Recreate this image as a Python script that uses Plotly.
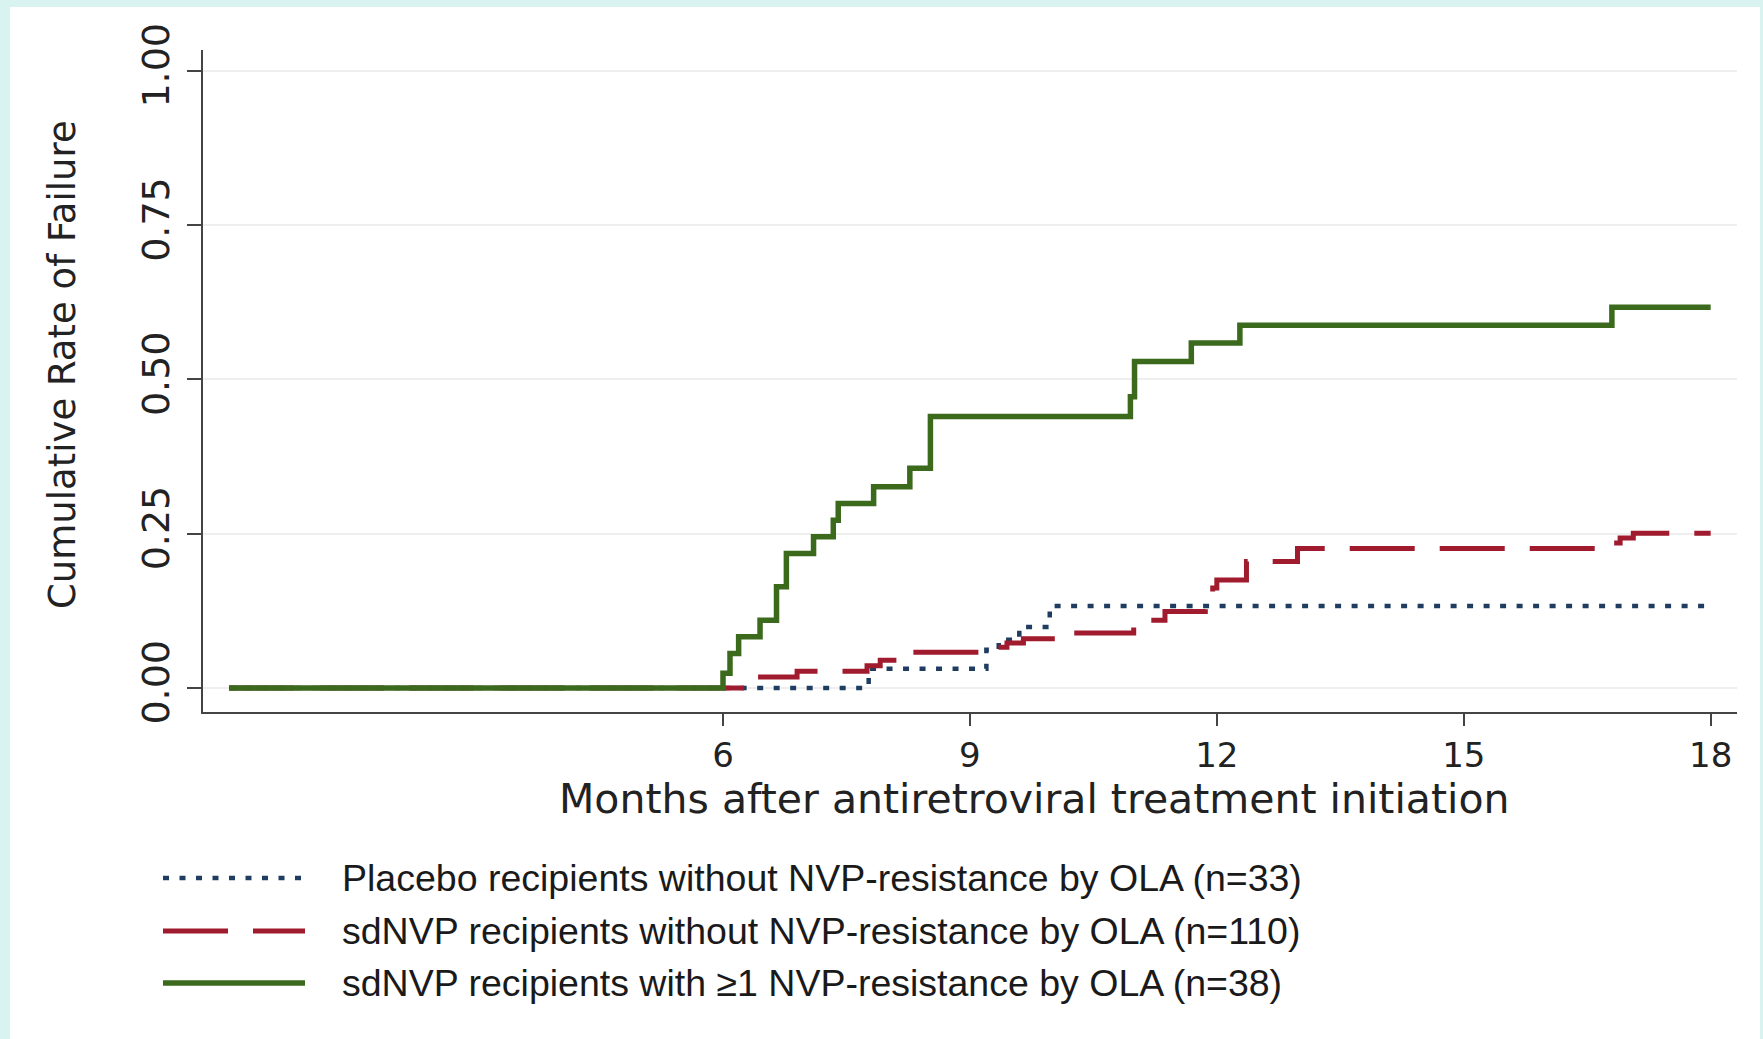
import plotly.graph_objects as go

# ---- data ----
months_placebo = [0, 7.77, 9.20, 9.35, 9.60, 9.97, 18.0]
rate_placebo = [0, 0.031, 0.062, 0.078, 0.099, 0.133, 0.133]

months_sdnvp_nores = [0, 6.39, 6.90, 7.75, 7.91, 8.25, 9.18, 9.45, 9.65, 10.20, 10.99,
                      11.37, 11.86, 11.90, 11.95, 12.00, 12.36, 12.98, 16.78, 16.90, 17.06, 18.0]
rate_sdnvp_nores = [0, 0.018, 0.027, 0.036, 0.045, 0.058, 0.066, 0.073, 0.080, 0.089, 0.110,
                    0.124, 0.135, 0.150, 0.162, 0.175, 0.205, 0.226, 0.235, 0.243, 0.251, 0.251]

months_sdnvp_res = [0, 6.00, 6.085, 6.19, 6.45, 6.65, 6.77, 7.10, 7.34, 7.40, 7.83, 8.27, 8.52,
                    10.95, 11.00, 11.69, 12.28, 16.80, 18.0]
rate_sdnvp_res = [0, 0.024, 0.056, 0.083, 0.110, 0.164, 0.218, 0.245, 0.272, 0.299, 0.326, 0.356,
                  0.440, 0.472, 0.529, 0.559, 0.588, 0.617, 0.617]

names = ["Placebo recipients without NVP-resistance by OLA (n=33)",
         "sdNVP recipients without NVP-resistance by OLA (n=110)",
         "sdNVP recipients with \u22651 NVP-resistance by OLA (n=38)"]

x_ticks = [6, 9, 12, 15, 18]
y_ticks = [0, 0.25, 0.5, 0.75, 1.0]

# ---- styling ----
W, H = 1763, 1039
L, R, T, B = 203, 26, 50, 327
BLUE, RED, GREEN = "#1f3d60", "#a01b2e", "#3b6a1c"
DOT = "6px,10.5px"
DASH = "65px,25px"

def px_to_paper(px, py):
    return (px - L) / (W - L - R), (H - B - py) / (H - T - B)

fig = go.Figure()
fig.add_trace(go.Scatter(x=months_placebo, y=rate_placebo, mode="lines", line_shape="hv",
                         line=dict(color=BLUE, width=4.5, dash=DOT), name=names[0]))
fig.add_trace(go.Scatter(x=months_sdnvp_nores, y=rate_sdnvp_nores, mode="lines", line_shape="hv",
                         line=dict(color=RED, width=5, dash=DASH), name=names[1]))
fig.add_trace(go.Scatter(x=months_sdnvp_res, y=rate_sdnvp_res, mode="lines", line_shape="hv",
                         line=dict(color=GREEN, width=5.5), name=names[2]))

shapes = []
# white panel over the light cyan page
x0, y0 = px_to_paper(10, 1039)
x1, y1 = px_to_paper(1760, 7)
shapes.append(dict(type="rect", xref="paper", yref="paper", x0=x0, y0=y0, x1=x1, y1=y1,
                   fillcolor="white", line=dict(width=0), layer="below"))

annotations = []
legend_y = [878, 931, 983]
legend_styles = [(BLUE, DOT, 4.5), (RED, DASH, 5), (GREEN, "solid", 5.5)]
for nm, ly, (col, dsh, wd) in zip(names, legend_y, legend_styles):
    ax0, ay = px_to_paper(163, ly)
    ax1, _ = px_to_paper(305, ly)
    shapes.append(dict(type="line", xref="paper", yref="paper", x0=ax0, x1=ax1, y0=ay, y1=ay,
                       line=dict(color=col, width=wd, dash=dsh)))
    tx, ty = px_to_paper(340, ly)
    annotations.append(dict(text=nm, xref="paper", yref="paper", x=tx, y=ty,
                            xanchor="left", yanchor="middle", showarrow=False,
                            font=dict(family="Liberation Sans, Arial", size=37.5, color="#1a1a1a")))

# axis titles
tx, ty = px_to_paper(1034, 799)
annotations.append(dict(text="Months after antiretroviral treatment initiation", xref="paper", yref="paper",
                        x=tx, y=ty, xanchor="center", yanchor="middle", showarrow=False,
                        font=dict(family="DejaVu Sans", size=41, color="#222222")))
tx, ty = px_to_paper(62, 365)
annotations.append(dict(text="Cumulative Rate of Failure", xref="paper", yref="paper",
                        x=tx, y=ty, xanchor="center", yanchor="middle", showarrow=False, textangle=-90,
                        font=dict(family="DejaVu Sans", size=37, color="#222222")))

fig.update_layout(
    width=W, height=H,
    margin=dict(l=L, r=R, t=T, b=B),
    paper_bgcolor="#d9f4f0",
    plot_bgcolor="white",
    showlegend=False,
    shapes=shapes,
    annotations=annotations,
    xaxis=dict(range=[-0.318, 18.32], tickvals=x_ticks, ticktext=[str(v) for v in x_ticks],
               showgrid=False, zeroline=False, showline=True, linecolor="#444444", linewidth=2,
               ticks="outside", ticklen=12, tickwidth=1.5, tickcolor="#444444",
               tickfont=dict(family="DejaVu Sans", size=34, color="#222222"), ticklabelstandoff=0),
    yaxis=dict(range=[-0.0389, 1.034], tickvals=y_ticks, tickformat=".2f",
               showgrid=True, gridcolor="#eeeeee", gridwidth=2, zeroline=False,
               showline=True, linecolor="#444444", linewidth=2,
               ticks="outside", ticklen=14, tickwidth=1.5, tickcolor="#444444", tickangle=-90,
               tickfont=dict(family="DejaVu Sans", size=38, color="#222222"), ticklabelstandoff=3),
)

fig.write_html("out.html")
